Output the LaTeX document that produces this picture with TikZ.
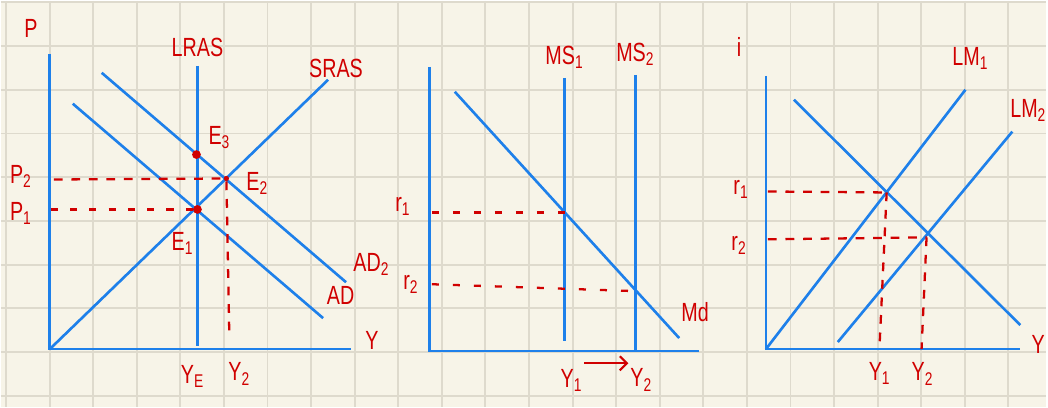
\documentclass[tikz,border=0pt]{standalone}
\usepackage{fontspec}
\newfontfamily\handfont[FakeStretch=0.75]{Liberation Sans}
\usetikzlibrary{arrows.meta, positioning, calc}
\definecolor{paper}{HTML}{F7F4E8}
\definecolor{gridgray}{HTML}{DEDACD}
\definecolor{penblue}{HTML}{1E80EA}
\definecolor{penred}{HTML}{D00000}
\tikzset{
  gridline/.style={gridgray, line width=1.1pt},
  axisline/.style={penblue, line width=1.6pt},
  curveline/.style={penblue, line width=1.5pt},
  guideline/.style={penred, line width=1.3pt, dash pattern=on 5pt off 5pt},
  lbl/.style={penred, font=\handfont\fontsize{15}{17}\selectfont, inner sep=1pt},
  eqdot/.style={circle, fill=penred, inner sep=0pt, minimum size=5pt},
}

\begin{document}
\begin{tikzpicture}[x=0.02cm, y=-0.02cm]
  % paper and squares
  \fill[paper] (0,0) rectangle (1048,407);
  \foreach \gx in {0,...,23}
    \draw[gridline] ({5+43.7*\gx},0) -- ({5+43.7*\gx},407);
  \foreach \gy in {0,...,9}
    \draw[gridline] (0,{1.5+43.8*\gy}) -- (1048,{1.5+43.8*\gy});

  % ---- AD/AS ----
  \coordinate (O1) at (49,349);
  \coordinate (Ptop) at (49,53);
  \coordinate (Yend1) at (351,349);
  \coordinate (LRASt) at (197,65);
  \coordinate (LRASb) at (197,346);
  \coordinate (SRASt) at (328,79);
  \coordinate (ADtwoS) at (101,72);
  \coordinate (ADtwoE) at (346,282);
  \coordinate (ADoneS) at (72,103);
  \coordinate (ADoneE) at (323,318);
  \draw[axisline] (Ptop) -- (O1) -- (Yend1);
  \draw[curveline] (LRASt) -- (LRASb);
  \draw[curveline] (O1) -- (SRASt);
  \draw[curveline] (ADtwoS) -- (ADtwoE);
  \draw[curveline] (ADoneS) -- (ADoneE);

  \node[eqdot] (E3) at (196,154) {};
  \node[eqdot, minimum size=3pt] (E2) at (226,178) {};
  \node[eqdot] (E1) at (197,209) {};
  \coordinate (Ptwo) at (53,179);
  \coordinate (Pone) at (50,209);
  \coordinate (Ytwo) at (229,338);
  \draw[guideline] (Ptwo) -- (E2);
  \draw[guideline, dash pattern=on 4pt off 7pt] (Pone) -- (E1);
  \draw[guideline] (E2) -- (Ytwo);

  \node[lbl] (pLbl) at (30,28) {P};
  \node[lbl, above=4pt of LRASt] (lrasLbl) {LRAS};
  \node[lbl, above right=0pt and -12pt of SRASt] (srasLbl) {SRAS};
  \node[lbl] (e3Lbl) at (219,137) {E\textsubscript{3}};
  \node[lbl] (e2Lbl) at (257,183) {E\textsubscript{2}};
  \node[lbl] (e1Lbl) at (182,243) {E\textsubscript{1}};
  \node[lbl] (p2Lbl) at (20,176) {P\textsubscript{2}};
  \node[lbl] (p1Lbl) at (20,213) {P\textsubscript{1}};
  \node[lbl, right=3pt of ADtwoE, yshift=10pt] (ad2Lbl) {AD\textsubscript{2}};
  \node[lbl, right=1pt of ADoneE, yshift=13pt] (ad1Lbl) {AD};
  \node[lbl] (y1Lbl) at (372,340) {Y};
  \node[lbl] (yeLbl) at (192,376) {Y\textsubscript{E}};
  \node[lbl] (y2aLbl) at (239,374) {Y\textsubscript{2}};

  % ---- money market ----
  \coordinate (O2) at (430,351);
  \coordinate (Rtop) at (430,66);
  \coordinate (Yend2) at (700,351);
  \coordinate (MSoneT) at (565,77);
  \coordinate (MSoneB) at (565,341);
  \coordinate (MStwoT) at (636,74);
  \coordinate (MStwoB) at (636,351);
  \coordinate (MdS) at (455,91);
  \coordinate (MdE) at (680,338);
  \draw[axisline] (Rtop) -- (O2) -- (Yend2);
  \draw[curveline] (MSoneT) -- (MSoneB);
  \draw[curveline] (MStwoT) -- (MStwoB);
  \draw[curveline] (MdS) -- (MdE);

  \coordinate (Rone) at (432,212);
  \coordinate (MEone) at (565,212);
  \coordinate (Rtwo) at (432,284);
  \coordinate (MEtwo) at (638,291);
  \draw[guideline, dash pattern=on 4pt off 8pt] (Rone) -- (MEone);
  \draw[guideline, dash pattern=on 4pt off 8pt] (Rtwo) -- (MEtwo);

  \node[lbl, above=4pt of MSoneT] (ms1Lbl) {MS\textsubscript{1}};
  \node[lbl, above=4pt of MStwoT] (ms2Lbl) {MS\textsubscript{2}};
  \node[lbl] (mdLbl) at (696,312) {Md};
  \node[lbl] (r1Lbl) at (403,206) {r\textsubscript{1}};
  \node[lbl] (r2Lbl) at (411,284) {r\textsubscript{2}};
  \node[lbl] (y1bLbl) at (572,380) {Y\textsubscript{1}};
  \node[lbl] (y2bLbl) at (642,380) {Y\textsubscript{2}};
  \draw[penred, line width=1.2pt, -{Straight Barb[length=4pt]}]
    ([yshift=2pt]y1bLbl.north east) -- ([yshift=2pt]y1bLbl.north east -| y2bLbl.west);

  % ---- IS/LM ----
  \coordinate (O3) at (767,349);
  \coordinate (Itop) at (767,75);
  \coordinate (Yend3) at (1022,349);
  \coordinate (LMoneT) at (967,89);
  \coordinate (LMtwoS) at (839,342);
  \coordinate (LMtwoT) at (1014,131);
  \coordinate (ISS) at (795,99);
  \coordinate (ISE) at (1022,325);
  \draw[axisline] (Itop) -- (O3) -- (Yend3);
  \draw[curveline] (O3) -- (LMoneT);
  \draw[curveline] (LMtwoS) -- (LMtwoT);
  \draw[curveline] (ISS) -- (ISE);

  \coordinate (EqOne) at (888,192);
  \coordinate (EqTwo) at (928,237);
  \coordinate (ROneL) at (769,191);
  \coordinate (RTwoL) at (769,239);
  \coordinate (YOneB) at (881,343);
  \coordinate (YTwoB) at (923,349);
  \draw[guideline] (ROneL) -- (EqOne);
  \draw[guideline] (RTwoL) -- (EqTwo);
  \draw[guideline] (EqOne) -- (YOneB);
  \draw[guideline] (EqTwo) -- (YTwoB);

  \node[lbl] (iLbl) at (740,46) {i};
  \node[lbl] (lm1Lbl) at (972,58) {LM\textsubscript{1}};
  \node[lbl] (lm2Lbl) at (1030,110) {LM\textsubscript{2}};
  \node[lbl] (y3Lbl) at (1040,344) {Y};
  \node[lbl] (r1cLbl) at (742,189) {r\textsubscript{1}};
  \node[lbl] (r2cLbl) at (740,245) {r\textsubscript{2}};
  \node[lbl] (y1cLbl) at (881,373) {Y\textsubscript{1}};
  \node[lbl] (y2cLbl) at (924,374) {Y\textsubscript{2}};
\end{tikzpicture}
\end{document}
